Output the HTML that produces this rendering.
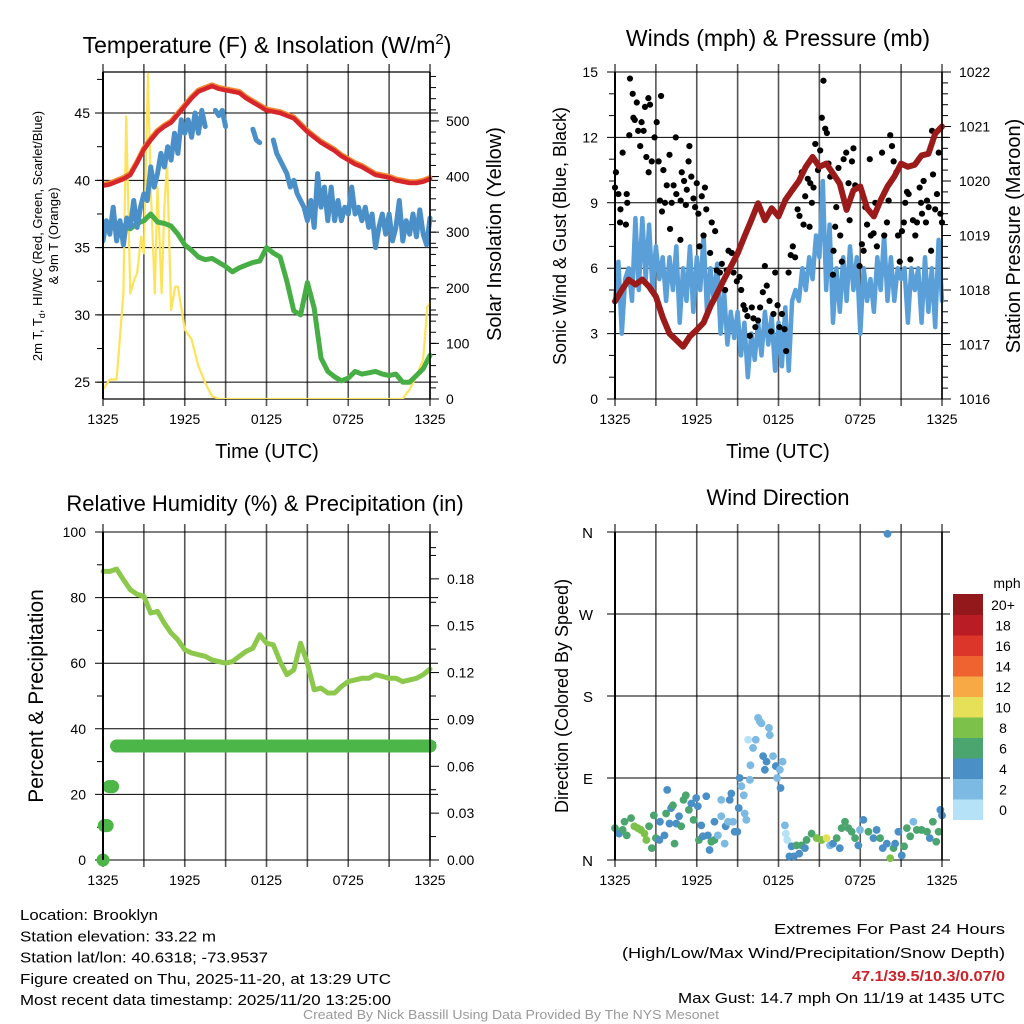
<!DOCTYPE html>
<html><head><meta charset="utf-8"><style>
html,body{margin:0;padding:0;background:#fff;}
svg{display:block;font-family:"Liberation Sans",Arial,sans-serif;}
</style></head><body>
<svg id="c" width="1024" height="1024" viewBox="0 0 1024 1024"></svg>
<script>
// ---------- DATA ----------
const halfHours = [0,0.5,1,1.5,2,2.5,3,3.5,4,4.5,5,5.5,6,6.5,7,7.5,8,8.5,9,9.5,10,10.5,11,11.5,12,12.5,13,13.5,14,14.5,15,15.5,16,16.5,17,17.5,18,18.5,19,19.5,20,20.5,21,21.5,22,22.5,23,23.5,24];
const quarterHours = [];
for (let i = 0; i <= 96; i++) quarterHours.push(i / 4);
const timeTickHours = [0,6,12,18,24];
const timeTickLabels = ["1325","1925","0125","0725","1325"];

const tempRed = [39.6,39.7,39.9,40.1,40.4,41.3,42.3,43.0,43.6,44.0,44.3,44.9,45.5,46.1,46.6,46.8,47.0,46.8,46.7,46.6,46.5,46.1,45.8,45.5,45.2,45.1,45.0,44.8,44.6,44.1,43.6,43.2,42.8,42.5,42.2,41.8,41.5,41.2,41.0,40.7,40.4,40.3,40.2,40.0,39.9,39.8,39.8,39.9,40.1];
const tempOrange = [39.7,39.8,40.0,40.2,40.5,41.4,42.4,43.1,43.7,44.1,44.4,45.0,45.6,46.2,46.7,46.9,47.1,46.9,46.8,46.7,46.6,46.2,45.9,45.6,45.3,45.2,45.1,44.9,44.7,44.2,43.7,43.3,42.9,42.6,42.3,41.9,41.6,41.3,41.1,40.8,40.5,40.4,40.3,40.1,40.0,39.9,39.9,40.0,40.2];
const tempBlue = [35.5,37,36,38,35.5,37,35.2,37.2,36.5,38.5,36.5,38,39,38.5,41,39.5,40.5,42,41,42.5,41.5,43.5,42,44.5,43.5,44.5,43.2,45,43.5,45.2,44,null,null,45.2,44.8,45.2,44,null,null,null,null,null,null,null,43.8,43,42.8,null,null,null,43,42,41.5,41,40.5,39.5,40,39,38.5,38,37,38.5,36.5,40.5,38,39.5,37,39.5,37,38.5,37,38,37.5,39.5,37.5,38,37,38,36.5,37.5,35,36.5,37.5,36,37.5,35.5,36.5,38.5,35.5,37,36,37.5,35.8,37.8,36,35.2,37.2];
const tempGreen = [36.3,36.5,36.8,36.6,36.4,36.8,37.0,37.5,36.9,36.8,36.6,36.0,35.2,34.8,34.3,34.1,34.2,33.9,33.6,33.2,33.5,33.7,33.9,34.0,35.0,34.6,34.3,32.5,30.3,30.0,32.4,30.5,26.8,25.8,25.4,25.1,25.3,25.8,25.6,25.7,25.8,25.6,25.5,25.6,25.0,25.0,25.5,26.0,27.0];
const solarHours = [0,0.5,0.8,1,1.5,1.7,2,2.3,2.5,2.8,3,3.3,3.5,3.8,4,4.3,4.5,4.7,5,5.3,5.5,6,6.5,7,7.5,8,8.5,12,18,22,22.3,22.5,23,23.5,23.8,24];
const solarValues = [17,35,35,35,190,508,190,215,226,292,262,585,382,190,382,190,340,430,160,202,202,125,107,59,29,5,0,0,0,0,11,17,41,71,166,172];
const tempTicks = [25,30,35,40,45];
const solarTicks = [0,100,200,300,400,500];

const windSpeed = [4.5,6.3,3.0,5.5,6.0,4.5,8.3,5.0,8.3,5.5,8.0,5.0,7.0,5.5,6.5,4.5,6.5,5.0,7.0,3.5,6.0,4.5,7.0,4.0,6.5,5.0,7.5,4.0,6.0,4.5,6.2,3.0,5.0,2.5,4.0,2.8,4.0,2.0,3.5,1.0,3.0,1.8,3.5,2.0,4.0,2.5,3.8,1.3,3.5,1.5,4.2,1.3,4.5,5.0,4.5,6.0,5.0,6.5,5.5,7.5,6.5,10.0,5.0,8.0,3.5,6.0,4.0,6.5,4.5,7.0,5.0,6.5,3.0,6.0,4.5,5.5,4.0,6.5,5.0,7.5,4.5,6.5,4.5,6.0,5.5,6.0,3.5,6.0,5.0,6.0,3.5,6.5,4.0,6.0,3.3,7.3,4.5];
const pressure = [1017.79,1018.0,1018.19,1018.1,1018.19,1018.06,1017.88,1017.5,1017.2,1017.08,1016.96,1017.15,1017.27,1017.4,1017.7,1017.94,1018.19,1018.43,1018.67,1018.98,1019.28,1019.59,1019.28,1019.5,1019.35,1019.65,1019.83,1020.0,1020.26,1020.44,1020.26,1020.32,1020.14,1019.95,1019.47,1019.83,1019.9,1019.5,1019.35,1019.65,1019.9,1020.08,1020.32,1020.26,1020.3,1020.47,1020.5,1020.87,1021.0];
const gustHours = [0,0.07,0.25,0.37,0.4,0.56,0.86,0.9,0.8,1.1,1.05,1.3,1.35,1.6,1.45,1.7,1.85,1.95,2.1,2.2,2.3,2.45,2.47,2.57,2.7,2.9,3.06,3.2,3.3,3.38,3.45,3.55,3.67,3.8,4.0,4.04,4.16,4.3,4.46,4.5,4.8,4.82,4.9,5.07,5.2,5.27,5.4,5.46,5.6,5.76,5.88,6.0,6.12,6.2,6.37,6.5,6.6,6.7,6.98,7.1,7.35,7.47,7.7,7.84,8.08,8.2,8.33,8.57,8.7,8.94,9.14,9.26,9.43,9.55,9.72,9.9,10.04,10.16,10.3,10.5,10.65,10.85,11.0,11.14,11.34,11.46,11.63,11.76,11.93,12.07,12.25,12.44,12.56,12.74,12.9,13.05,13.22,13.4,13.54,13.71,13.84,13.96,14.15,14.28,14.33,14.45,14.57,14.7,14.9,15.06,15.18,15.3,15.43,15.55,15.67,15.8,16.0,16.04,16.16,16.24,16.4,16.53,16.65,16.78,16.97,17.14,17.22,17.39,17.5,17.63,17.95,18.12,18.25,18.37,18.5,18.7,18.78,18.98,19.1,19.22,19.6,19.76,19.96,20.08,20.2,20.33,20.45,20.65,20.77,20.9,21.06,21.2,21.3,21.43,21.55,21.68,21.87,22.04,22.16,22.36,22.46,22.53,22.65,22.82,22.9,23.02,23.2,23.27,23.34,23.5,23.63,23.76,23.88,24];
const gustValues = [9.7,10.4,9.4,8.1,8.7,11.3,9.4,9.0,8.0,14.7,12.1,14.0,12.9,13.6,12.8,12.3,11.6,12.7,12.3,13.4,11.1,13.8,10.4,13.5,10.9,12.0,12.7,10.9,9.1,13.9,8.6,10.5,9.0,9.8,11.2,7.8,9.0,9.8,12.0,9.4,7.3,9.1,10.4,10.0,8.9,9.6,10.9,11.6,10.2,9.2,8.8,9.9,8.5,7.0,9.3,7.5,9.7,8.7,6.7,8.1,7.7,5.9,5.8,6.2,5.0,5.9,6.8,6.7,5.8,5.4,5.6,5.0,4.3,4.1,3.8,2.9,4.2,3.7,3.3,3.6,4.2,4.9,6.1,5.2,4.5,3.1,3.9,5.8,4.3,3.3,3.9,3.2,2.2,5.8,6.6,7.0,6.5,8.7,8.4,10.4,8.0,9.3,10.1,7.9,9.9,9.0,9.7,11.7,10.5,11.4,12.9,14.6,12.4,12.2,10.8,10.2,5.7,6.8,7.9,8.8,10.6,7.5,6.3,11.0,11.3,9.9,8.2,10.9,11.5,9.8,6.1,7.1,6.8,8.8,8.0,11.0,7.5,7.6,9.0,7.0,11.3,7.5,8.1,9.1,12.1,11.6,10.9,10.4,7.5,6.3,7.7,8.1,9.0,9.5,9.4,6.4,8.2,7.5,8.1,9.7,9.0,8.5,10.0,8.1,9.1,8.8,6.8,12.3,10.3,8.7,9.4,11.3,8.5,8.1];
const windTicks = [0,3,6,9,12,15];
const pressureTicks = [1016,1017,1018,1019,1020,1021,1022];

const rhValues = [88,88,88.7,85.5,82.4,81,80.4,75.3,75.8,72.2,69.2,67.1,64.1,63.1,62.6,62.1,61,60.5,60,60.5,62.1,63.6,64.6,68.7,66.1,65.6,60.5,56.5,58,66.1,60,51.9,52.4,50.9,50.9,52.9,54.4,54.9,55.4,55.4,56.5,56,55.4,55.4,54.4,54.9,55.4,56.5,58.2];
const precipHours = [0,0.1,0.3,0.45,0.7,1.0,24];
const precipValues = [0,0.022,0.022,0.047,0.047,0.073,0.073];
const rhTicks = [0,20,40,60,80,100];
const precipTicks = [0,0.03,0.06,0.09,0.12,0.15,0.18];
const precipTickLabels = ["0.00","0.03","0.06","0.09","0.12","0.15","0.18"];

const dirHours = [0,0.3,0.56,0.7,0.86,1.18,1.42,1.67,1.9,2.16,2.3,2.5,2.7,2.85,3.0,3.26,3.3,3.63,3.75,3.83,4.0,4.12,4.25,4.37,4.5,4.7,4.86,5.03,5.2,5.42,5.6,5.77,5.96,6.08,6.16,6.33,6.45,6.7,6.82,6.94,7.07,7.3,7.3,7.55,7.8,7.8,8.05,8.12,8.3,8.42,8.54,8.66,8.78,8.98,9.08,9.15,9.28,9.45,9.52,9.64,9.77,9.9,9.94,10.13,10.33,10.5,10.63,10.75,10.87,11.0,11.12,11.3,11.36,11.6,11.8,11.9,12.1,12.15,12.3,12.47,12.54,12.64,12.8,12.96,13.13,13.32,13.52,13.7,13.94,14.06,14.43,14.8,15.17,15.53,15.78,16.0,16.27,16.5,16.63,16.88,17.13,17.37,17.62,17.86,17.98,18.23,18.6,18.97,19.2,19.46,19.65,19.95,20.0,20.2,20.44,20.56,20.8,21.05,21.22,21.42,21.67,21.9,22.15,22.5,22.9,23.1,23.33,23.58,23.75,23.88,24];
const dirDegrees = [35,29,33,42,27,46,37,35,33,29,22,37,13,49,24,22,42,27,51,77,40,57,60,18,40,48,37,66,71,55,62,44,68,59,22,38,26,70,27,11,20,22,42,27,66,48,18,37,42,66,73,42,31,31,57,90,81,71,51,44,132,88,104,123,132,156,152,150,114,99,108,145,137,114,103,90,99,79,108,38,29,22,4,15,4,16,7,16,13,22,29,24,22,24,16,18,24,13,35,42,35,31,24,16,33,44,31,24,33,24,13,18,358,2,13,18,31,5,15,35,26,42,33,33,31,24,42,20,31,55,49];
const dirSpeeds = [7,5,7,7,7,7,8.5,8.5,9,8.5,9,7,7,7,7,5,5,5,7,5,5,5,7,7,5,5,7,7,7,7,5,7,5,5,7,5,5,5,5,5,7,7,5,3,3,3,3,5,3,5,5,3,5,5,5,5,3,3,3,3,1,3,3,3,3,3,3,3,5,5,5,3,3,3,5,3,3,5,3,3,1,1,5,5,5,7,5,7,5,7,7,8.5,8.5,10.5,3,5,7,5,7,7,7,7,7,5,3,5,7,5,5,7,5,5,5,8.5,7,5,5,5,7,7,7,3,7,7,7,5,7,7,7,5,5];
const dirTicks = [0,90,180,270,360];
const dirTickLabels = ["N","E","S","W","N"];
const speedBinLabels = ["0","2","4","6","8","10","12","14","16","18","20+"];
const speedBinColors = ["#b6e2f7","#7cb9e3","#4a8fc6","#4aa56e","#7cc24a","#e6df58","#f6a945","#ef6330","#dc352a","#ba1c25","#93181b"];

// ---------- RENDER ----------
const NS="http://www.w3.org/2000/svg";
const svg=document.getElementById('c');
function mk(tag,attrs,parent){const e=document.createElementNS(NS,tag);for(const k in attrs)e.setAttribute(k,attrs[k]);(parent||svg).appendChild(e);return e;}
function txt(s,attrs,parent){const e=mk('text',attrs,parent);e.textContent=s;return e;}

function makeX(x0,x1){return h=>x0+h/24*(x1-x0);}
function makeY(y0,y1,vmin,vmax){return v=>y1-(v-vmin)/(vmax-vmin)*(y1-y0);}

function frame(g,x0,x1,y0,y1,xs){
  for(let h=0;h<=24;h+=3){
    const l=mk('line',{x1:xs(h),x2:xs(h),y1:y0-8,y2:y1+7,stroke:'#555','stroke-width':1.6},g);
    
    
  }
  for(let i=0;i<timeTickHours.length;i++){
    const t=txt(timeTickLabels[i],{x:xs(timeTickHours[i]),y:y1+25,'font-size':14,'text-anchor':'middle',fill:'#000'},g);
    
    
  }
}
function hgrid(g,x0,x1,y,left,right){
  const l=mk('line',{x1:x0-(left||8),x2:x1+(right||8),y1:y,y2:y,stroke:'#000','stroke-width':1},g);
  
  
}
function minorTicks(g,x,ys,side){
  ys.forEach(y=>{mk('line',{x1:x,x2:x+side*6,y1:y,y2:y,stroke:'#000','stroke-width':1},g);});
}
function border(g,x0,x1,y0,y1){
  mk('line',{x1:x0,x2:x0,y1:y0,y2:y1,stroke:'#000','stroke-width':2},g);
  mk('line',{x1:x1,x2:x1,y1:y0,y2:y1,stroke:'#000','stroke-width':1.5},g);
}
function pathFrom(xsArr,ysArr){
  let d='',pen=false;
  for(let i=0;i<xsArr.length;i++){
    if(ysArr[i]===null||ysArr[i]===undefined){pen=false;continue;}
    d+=(pen?'L':'M')+xsArr[i].toFixed(1)+','+ysArr[i].toFixed(1);pen=true;
  }
  return d;
}
function series(g,hours,vals,xs,ys,color,w,name){
  const p=mk('path',{d:pathFrom(hours.map(xs),vals.map(v=>v===null?null:ys(v))),fill:'none',stroke:color,'stroke-width':w,'stroke-linejoin':'round','stroke-linecap':'round'},g);
  
  
  return p;
}

// ===== Panel 1: Temperature =====
(function(){
  const x0=103,x1=430,y0=72,y1=399;
  const g=mk('g',{});  
  const xs=makeX(x0,x1), ty=makeY(y0,y1,23.75,48.05), sy=makeY(y0,y1,0,588);
  frame(g,x0,x1,y0,y1,xs);
  tempTicks.forEach(v=>{hgrid(g,x0,x1,ty(v));const t=txt(String(v),{x:x0-13,y:ty(v)+5,'font-size':14,'text-anchor':'end'},g);});
  const mt=[];for(let v=25;v<=47.5;v+=2.5)mt.push(ty(v));minorTicks(g,x0,mt,-1);
  solarTicks.forEach(v=>{mk('line',{x1:x1,x2:x1+9,y1:sy(v),y2:sy(v),stroke:'#000'},g);const t=txt(String(v),{x:x1+16,y:sy(v)+5,'font-size':14},g);});
  const ms=[];for(let v=20;v<=580;v+=20)ms.push(sy(v));minorTicks(g,x1,ms,1);
  mk('line',{x1:x0,x2:x1,y1:y0,y2:y0,stroke:'#000','stroke-width':1.2},g);
  mk('line',{x1:x0,x2:x1,y1:y1,y2:y1,stroke:'#000','stroke-width':1.2},g);
  const cp=mk('clipPath',{id:'cp1'},g);mk('rect',{x:x0,y:y0-3,width:x1-x0+3,height:y1-y0+3},cp);
  const gs=mk('g',{'clip-path':'url(#cp1)'},g);
  series(gs,solarHours,solarValues,xs,sy,'#fde35a',2.2,'solar-insolation-line');
  series(gs,halfHours,tempGreen,xs,ty,'#47ae45',5,'dewpoint-line');
  series(gs,quarterHours,tempBlue,xs,ty,'#4a8fc8',5,'wind-chill-line');
  series(gs,halfHours,tempOrange,xs,ty,'#f08a30',5,'temp-9m-line');
  series(gs,halfHours,tempRed,xs,ty,'#d6262b',4.5,'temp-2m-line');
  border(g,x0,x1,y0,y1);
  let t=txt('',{x:267,y:53,'font-size':23,'text-anchor':'middle'},g);
  t.textContent='Temperature (F) & Insolation (W/m';const s=mk('tspan',{dy:-9,'font-size':15},t);s.textContent='2';const s2=mk('tspan',{dy:9},t);s2.textContent=')';
  t=txt('Time (UTC)',{x:267,y:458,'font-size':20,'text-anchor':'middle'},g);
  t=txt('',{transform:'translate(42,236) rotate(-90)','font-size':13,'text-anchor':'middle'},g);
  t.textContent='2m T, T';let sb=mk('tspan',{dy:3,'font-size':9},t);sb.textContent='d';sb=mk('tspan',{dy:-3},t);sb.textContent=', HI/WC (Red, Green, Scarlet/Blue)';
  t=txt('& 9m T (Orange)',{transform:'translate(58,236) rotate(-90)','font-size':13,'text-anchor':'middle'},g);
  t=txt('Solar Insolation (Yellow)',{transform:'translate(501,234) rotate(-90)','font-size':20,'text-anchor':'middle'},g);
})();

// ===== Panel 2: Winds =====
(function(){
  const x0=615,x1=942,y0=72,y1=399;
  const g=mk('g',{});  
  const xs=makeX(x0,x1), wy=makeY(y0,y1,0,15), py=makeY(y0,y1,1016,1022);
  frame(g,x0,x1,y0,y1,xs);
  windTicks.forEach(v=>{hgrid(g,x0,x1,wy(v));const t=txt(String(v),{x:x0-17,y:wy(v)+5,'font-size':14,'text-anchor':'end'},g);});
  const mw=[];for(let v=1;v<15;v++)if(v%3)mw.push(wy(v));minorTicks(g,x0,mw,-1);
  pressureTicks.forEach(v=>{mk('line',{x1:x1,x2:x1+9,y1:py(v),y2:py(v),stroke:'#000'},g);const t=txt(String(v),{x:x1+17,y:py(v)+5,'font-size':14},g);});
  const mp=[];for(let v=1016.2;v<1022;v+=0.2)mp.push(py(v));minorTicks(g,x1,mp,1);
  const cp=mk('clipPath',{id:'cp2'},g);mk('rect',{x:x0-4,y:y0-4,width:x1-x0+8,height:y1-y0+8},cp);
  const gs=mk('g',{'clip-path':'url(#cp2)'},g);
  series(gs,quarterHours,windSpeed,xs,wy,'#5b9fd8',4.5,'sonic-wind-line');
  for(let i=0;i<gustHours.length;i++){
    const c=mk('circle',{cx:xs(gustHours[i]),cy:wy(gustValues[i]),r:3.1,fill:'#000'},gs);
    
    
  }
  series(gs,halfHours,pressure,xs,py,'#9b1a1a',6,'pressure-line');
  border(g,x0,x1,y0,y1);
  let t=txt('Winds (mph) & Pressure (mb)',{x:778,y:46,'font-size':23,'text-anchor':'middle'},g);
  t=txt('Time (UTC)',{x:778,y:458,'font-size':20,'text-anchor':'middle'},g);
  t=txt('Sonic Wind & Gust (Blue, Black)',{transform:'translate(566,236) rotate(-90)','font-size':18,'text-anchor':'middle'},g);
  t=txt('Station Pressure (Maroon)',{transform:'translate(1020,236) rotate(-90)','font-size':20,'text-anchor':'middle'},g);
})();

// ===== Panel 3: RH =====
(function(){
  const x0=103,x1=430,y0=532,y1=860;
  const g=mk('g',{});  
  const xs=makeX(x0,x1), ry=makeY(y0,y1,0,100), ppy=makeY(y0,y1,0,0.21);
  frame(g,x0,x1,y0,y1,xs);
  rhTicks.forEach(v=>{hgrid(g,x0,x1,ry(v));const t=txt(String(v),{x:x0-17,y:ry(v)+5,'font-size':14,'text-anchor':'end'},g);});
  const mr=[];for(let v=10;v<100;v+=20)mr.push(ry(v));minorTicks(g,x0,mr,-1);
  precipTicks.forEach((v,i)=>{mk('line',{x1:x1,x2:x1+9,y1:ppy(v),y2:ppy(v),stroke:'#000'},g);const t=txt(precipTickLabels[i],{x:x1+17,y:ppy(v)+5,'font-size':14},g);});
  const mpp=[];for(let v=0.015;v<0.21;v+=0.03)mpp.push(ppy(v));mpp.push(ppy(0.2));minorTicks(g,x1,mpp,1);
  series(g,halfHours,rhValues,xs,ry,'#8cc84b',5,'relative-humidity-line');
  for(let i=0;i<precipHours.length;i++){
    if(i>0&&precipValues[i]===precipValues[i-1]){
      const l=mk('line',{x1:xs(precipHours[i-1]),x2:xs(precipHours[i]),y1:ppy(precipValues[i]),y2:ppy(precipValues[i]),stroke:'#4cb748','stroke-width':13,'stroke-linecap':'round'},g);
      
      
    }
    const c=mk('circle',{cx:xs(precipHours[i]),cy:ppy(precipValues[i]),r:6.5,fill:'#4cb748'},g);
    
    
  }
  border(g,x0,x1,y0,y1);
  let t=txt('Relative Humidity (%) & Precipitation (in)',{x:265,y:511,'font-size':22,'text-anchor':'middle'},g);
  t=txt('Percent & Precipitation',{transform:'translate(43,696) rotate(-90)','font-size':21,'text-anchor':'middle'},g);
})();

// ===== Panel 4: Wind Direction =====
(function(){
  const x0=615,x1=942,y0=532,y1=860;
  const g=mk('g',{});  
  const xs=makeX(x0,x1), dy=makeY(y0,y1,0,360);
  frame(g,x0,x1,y0,y1,xs);
  dirTicks.forEach((v,i)=>{hgrid(g,x0,x1,dy(v),8,8);const t=txt(dirTickLabels[i],{x:x0-22,y:dy(v)+6,'font-size':15,'text-anchor':'end'},g);});
  function binColor(s){let b=Math.floor(s/2);if(b>10)b=10;if(b<0)b=0;return speedBinColors[b];}
  for(let i=0;i<dirHours.length;i++){
    const c=mk('circle',{cx:xs(dirHours[i]),cy:dy(dirDegrees[i]),r:3.9,fill:binColor(dirSpeeds[i])},g);
    
    
  }
  border(g,x0,x1,y0,y1);
  let t=txt('Wind Direction',{x:778,y:505,'font-size':22,'text-anchor':'middle'},g);
  t=txt('Direction (Colored By Speed)',{transform:'translate(568,696) rotate(-90)','font-size':18,'text-anchor':'middle'},g);
  const lg=mk('g',{},g);  
  const bx=953,bw=30,bt=594,bh=20.5;
  for(let i=0;i<speedBinColors.length;i++){
    const yy=bt+(speedBinColors.length-1-i)*bh;
    const r=mk('rect',{x:bx,y:yy,width:bw,height:bh+0.5,fill:speedBinColors[i]},lg);
    
    
    const lt=txt(speedBinLabels[i],{x:1003,y:yy+16,'font-size':14,'text-anchor':'middle'},lg);
    
    
  }
  t=txt('mph',{x:1007,y:588,'font-size':14,'text-anchor':'middle'},lg);
})();

// ===== Footer =====
(function(){
  const g=mk('g',{});  
  const left=[["Location: Brooklyn",138],["Station elevation: 33.22 m",196],["Station lat/lon: 40.6318; -73.9537",248],["Figure created on Thu, 2025-11-20, at 13:29 UTC",371],["Most recent data timestamp: 2025/11/20 13:25:00",371]];
  left.forEach((l,i)=>{const t=txt(l[0],{x:20,y:920+i*21.3,'font-size':15,textLength:l[1],lengthAdjust:'spacingAndGlyphs'},g);});
  const right=[["Extremes For Past 24 Hours",231,934,'#000','normal'],["(High/Low/Max Wind/Precipitation/Snow Depth)",383,958,'#000','normal'],["47.1/39.5/10.3/0.07/0",153,981,'#cc2229','bold'],["Max Gust: 14.7 mph On 11/19 at 1435 UTC",327,1003,'#000','normal']];
  right.forEach(l=>{const t=txt(l[0],{x:1005-l[1],y:l[2],'font-size':15,fill:l[3],'font-weight':l[4],textLength:l[1],lengthAdjust:'spacingAndGlyphs'},g);});
  const t=txt('Created By Nick Bassill Using Data Provided By The NYS Mesonet',{x:303,y:1019,'font-size':12.5,fill:'#999',textLength:416,lengthAdjust:'spacingAndGlyphs'},g);
})();
</script>
</body></html>
